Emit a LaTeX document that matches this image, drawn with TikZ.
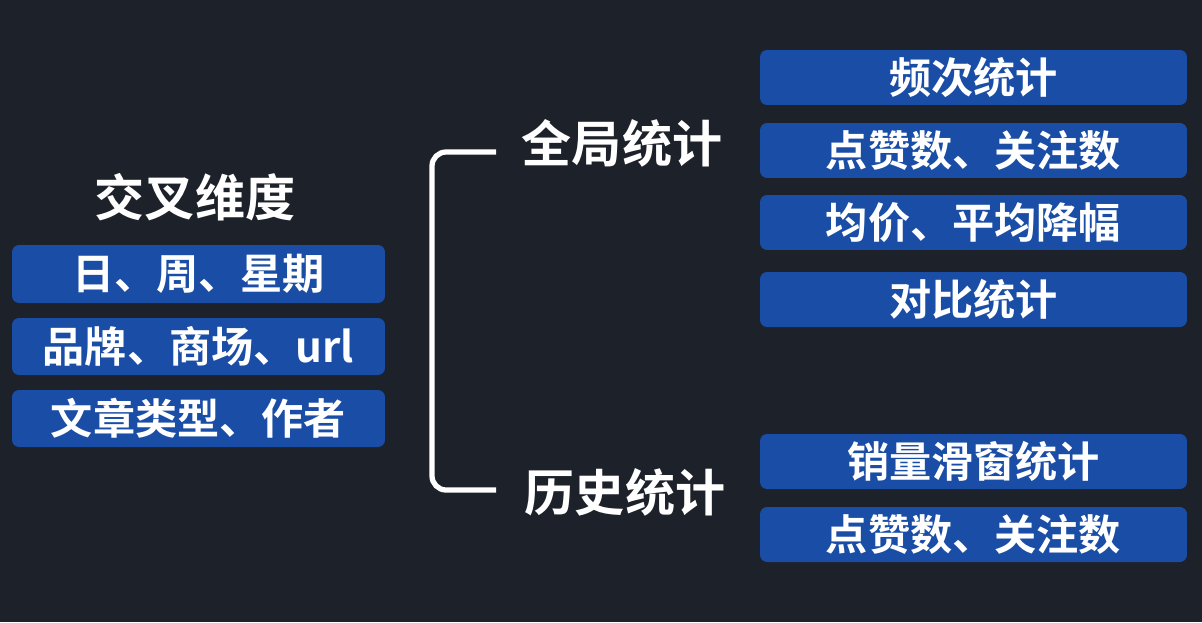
\documentclass[tikz,border=0pt]{standalone}
\usepackage{fontspec}
\newfontfamily\cjk{Noto Sans CJK SC Bold}
\definecolor{bgdark}{HTML}{1D2129}
\definecolor{boxblue}{HTML}{1A4DA6}
\tikzset{
  catbox/.style={fill=boxblue, rounded corners=4pt, draw=none, text=white,
                 font=\cjk\fontsize{24}{26}\selectfont, inner sep=0pt},
  headtxt/.style={text=white, font=\cjk\fontsize{28.5}{31}\selectfont}
}
\begin{document}
\begin{tikzpicture}[x=0.02cm, y=-0.02cm]
\fill[bgdark] (0,0) rectangle (1202,622);
\useasboundingbox (0,0) rectangle (1202,622);

% left column
\node[headtxt] (cross) at (195,197) {交叉维度};
\node[catbox, minimum width=7.46cm, minimum height=1.16cm] (day) at (198.5,274) {日、周、星期};
\node[catbox, minimum width=7.46cm, minimum height=1.14cm] (brand) at (198.5,346.5) {品牌、商场、url};
\node[catbox, minimum width=7.46cm, minimum height=1.14cm] (article) at (198.5,418.5) {文章类型、作者};

% bracket
\node[headtxt] (global) at (622,143) {全局统计};
\node[headtxt] (history) at (625,492) {历史统计};
\coordinate (btop) at (496,152);
\coordinate (bbot) at (496,490);
\draw[white, line width=3pt, rounded corners=8pt] (btop) -- (432,152) -- (432,490) -- (bbot);

% right column
\foreach \name/\y/\txt in {freq/77.5/频次统计, likes/150.5/点赞数、关注数,
    price/222.5/均价、平均降幅, cmp/299.5/对比统计,
    sales/461.5/销量滑窗统计, likesh/534.5/点赞数、关注数}
  \node[catbox, minimum width=8.54cm, minimum height=1.1cm] (\name) at (973.5,\y) {\txt};
\end{tikzpicture}
\end{document}
